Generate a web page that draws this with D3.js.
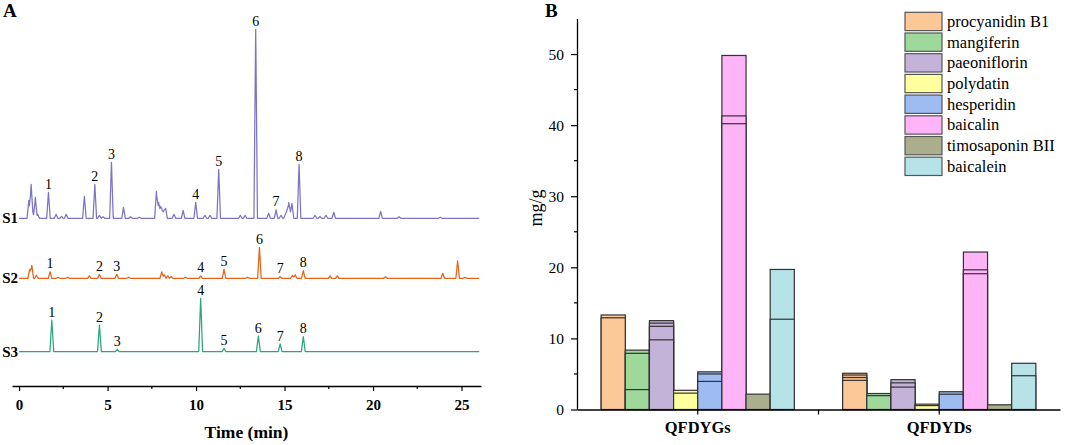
<!DOCTYPE html>
<html><head><meta charset="utf-8">
<script src="https://cdn.jsdelivr.net/npm/d3@7"></script>
<style>
body{margin:0;background:#fff}
svg{display:block}
text{font-family:"Liberation Serif","Times New Roman",serif;fill:#000}
</style>
</head><body>
<svg id="c" width="1065" height="445"></svg>
<script>
// ---------- Panel A data: chromatogram peaks (retention time in min, relative height) ----------
const s1Times   = [0.55,0.68,0.78,0.92,1.05,1.66,2.09,2.4,2.66,3.69,4.28,4.54,4.75,5.22,5.9,6.3,6.8,7.76,7.88,7.98,8.06,8.18,8.28,8.75,9.27,9.98,10.5,10.79,11.28,12.5,12.77,13.37,14.1,14.52,14.8,15.05,15.15,15.24,15.32,15.42,15.82,16.72,17.0,17.34,17.78,20.43,21.47,23.8];
const s1Heights = [18,34,6,21,4,26,4,2,4,22,34,3,1.5,56,11,1.5,1,27,16,12,10,8,10,4,8,16,3,3,49,3,3,189,5,8.5,3,4,9,16,8,15,54,3,2,3,6,7,1.5,1];
const s1Labels  = [1.66,4.28,5.22,9.98,11.28,13.37,14.52,15.82];

const s2Times   = [0.6,0.72,0.98,1.75,2.2,2.75,3.97,4.54,5.52,6.2,8.06,8.2,8.4,8.6,9.4,10.26,11.58,12.9,13.58,14.75,15.45,15.6,16.06,17.57,17.98,20.7,23.94,24.78,25.2];
const s2Heights = [9,13,3,6.7,1,1,2.5,4,4,1,6.5,3.5,2.5,2,1,2.5,9,1,31,1.7,3,3.5,7.7,2.3,2.3,1.5,5,17.5,1];
const s2Labels  = [1.75,4.54,5.52,10.26,11.58,13.58,14.75,16.06];

const s3Times   = [1.85,4.54,5.55,10.26,11.58,13.52,14.75,16.06];
const s3Heights = [31.7,26.7,2.3,53.3,3.3,15.7,7.7,15];
const s3Labels  = [1.85,4.54,5.55,10.26,11.58,13.52,14.75,16.06];

const traceNames  = ["S1","S2","S3"];
const traceColors = ["#7b74c6","#e5621a","#2ba57f"];
const xTicksA = [0,5,10,15,20,25];
const xMinorA = [2.5,7.5,12.5,17.5,22.5];

// ---------- Panel B data: contents (mg/g), overlaid batch values ----------
const categories = ["QFDYGs","QFDYDs"];
const compounds = ["procyanidin B1","mangiferin","paeoniflorin","polydatin","hesperidin","baicalin","timosaponin BII","baicalein"];
const compoundColors = ["#fdc898","#9ed89a","#c4b3d9","#ffff9e","#9ebbf2","#fdb5f7","#abae8c","#b5e3e8"];
const qfdygsValues = [[12.9,13.3],[2.8,7.9,8.35],[9.8,11.7,12.15,12.5],[2.3,2.7],[3.95,5.0,5.3],[40.2,41.3,49.8],[2.16],[12.7,19.7]];
const qfdydsValues = [[4.1,4.5,4.85,5.1],[1.95,2.25],[3.15,3.75,4.2],[0.55,0.75],[2.15,2.5],[19.1,19.65,22.15],[0.66],[4.75,6.5]];
const yTicksB = [0,10,20,30,40,50];
const yMinorB = [5,15,25,35,45];

// ---------- drawing ----------
const svg = d3.select("#c");
svg.append("rect").attr("width",1065).attr("height",445).attr("fill","#fff");

// ===== Panel A =====
const xA = d3.scaleLinear().domain([-0.4,26.1]).range([12,481]);
const baselines = [218.3,278.3,351.7];
const traces = [
  {t:s1Times,h:s1Heights,lab:s1Labels,w:0.1},
  {t:s2Times,h:s2Heights,lab:s2Labels,w:0.1},
  {t:s3Times,h:s3Heights,lab:s3Labels,w:0.11}
];

function envelope(times, heights, w){
  const verts = new Set([0,26]);
  times.forEach(t=>{verts.add(+(t-w).toFixed(4));verts.add(t);verts.add(+(t+w).toFixed(4));});
  const vs = Array.from(verts).filter(v=>v>=0&&v<=26).sort((a,b)=>a-b);
  return vs.map(v=>{
    let m=0;
    times.forEach((t,i)=>{const d=Math.abs(v-t); if(d<w){m=Math.max(m,heights[i]*(1-d/w));}});
    return [v,m];
  });
}

traces.forEach((tr,k)=>{
  const yS = d3.scaleLinear().domain([0,200]).range([baselines[k],baselines[k]-200]);
  const pts = envelope(tr.t,tr.h,tr.w);
  svg.append("path").datum(pts)
    .attr("d",d3.line().x(d=>xA(d[0])).y(d=>yS(d[1])))
    .attr("fill","none").attr("stroke",traceColors[k]).attr("stroke-width",1.25)
    .attr("stroke-linejoin","round");
  svg.append("text").attr("x",18).attr("y",baselines[k]+5)
    .attr("text-anchor","end").attr("font-weight","bold").attr("font-size",15).attr("fill","#000")
    .text(traceNames[k]);
  tr.lab.forEach((t,i)=>{
    const h = tr.h[tr.t.indexOf(t)];
    svg.append("text").attr("x",xA(t)).attr("y",yS(h)-3.5)
      .attr("text-anchor","middle").attr("font-size",14).attr("fill","#000").text(i+1);
  });
});

const axA = svg.append("g").attr("transform","translate(0,386)")
  .call(d3.axisBottom(xA).tickValues(xTicksA).tickSize(5).tickSizeOuter(0).tickPadding(8).tickFormat(d3.format("d")));
axA.select(".domain").attr("stroke","#000").attr("stroke-width",1.3);
axA.selectAll(".tick line").attr("stroke","#000").attr("stroke-width",1.2);
axA.selectAll(".tick text").attr("font-size",15).attr("font-weight","bold")
  .attr("font-family","'Liberation Serif','Times New Roman',serif").attr("fill","#000");
axA.selectAll(".minor").data(xMinorA).enter().append("line").attr("class","minor")
  .attr("x1",d=>xA(d)).attr("x2",d=>xA(d)).attr("y1",0).attr("y2",3)
  .attr("stroke","#000").attr("stroke-width",1.2);
svg.append("text").attr("x",246.5).attr("y",437.5).attr("text-anchor","middle")
  .attr("font-weight","bold").attr("font-size",17.5).text("Time (min)");
svg.append("text").attr("x",3).attr("y",17).attr("font-weight","bold").attr("font-size",19).text("A");

// ===== Panel B =====
const xB = d3.scaleBand().domain(categories).range([577,1060]);
const inner = d3.scaleBand().domain(compounds).range([xB.bandwidth()*0.1, xB.bandwidth()*0.9]);
const yB = d3.scaleLinear().domain([0,55]).range([409.5,18.5]);
const colorB = d3.scaleOrdinal().domain(compounds).range(compoundColors);
const valuesByCat = {"QFDYGs":qfdygsValues,"QFDYDs":qfdydsValues};

const barData = [];
categories.forEach(c=>{
  compounds.forEach((cp,j)=>{
    valuesByCat[c][j].slice().sort((a,b)=>b-a).forEach(v=>barData.push({c,cp,v}));
  });
});
svg.append("g").selectAll("rect").data(barData).enter().append("rect")
  .attr("x",d=>xB(d.c)+inner(d.cp))
  .attr("width",inner.bandwidth())
  .attr("y",d=>yB(d.v))
  .attr("height",d=>yB(0)-yB(d.v))
  .attr("fill",d=>colorB(d.cp))
  .attr("stroke","#333").attr("stroke-width",1.2);

const ayB = svg.append("g").attr("transform","translate(577,0)")
  .call(d3.axisLeft(yB).tickValues(yTicksB).tickSize(6).tickSizeOuter(0).tickPadding(7).tickFormat(d3.format("d")));
ayB.select(".domain").attr("stroke","#000").attr("stroke-width",1.3);
ayB.selectAll(".tick line").attr("stroke","#000").attr("stroke-width",1.2);
ayB.selectAll(".tick text").attr("font-size",15.5)
  .attr("font-family","'Liberation Serif','Times New Roman',serif").attr("fill","#000");
ayB.selectAll(".minor").data(yMinorB).enter().append("line").attr("class","minor")
  .attr("y1",d=>yB(d)).attr("y2",d=>yB(d)).attr("x1",0).attr("x2",-3)
  .attr("stroke","#000").attr("stroke-width",1.2);

const axB = svg.append("g").attr("transform","translate(0,409.5)")
  .call(d3.axisBottom(xB).tickSize(5).tickSizeOuter(0).tickPadding(7));
axB.select(".domain").attr("stroke","#000").attr("stroke-width",1.3);
axB.selectAll(".tick line").attr("stroke","#000").attr("stroke-width",1.2);
axB.selectAll(".tick text").attr("font-size",16.5).attr("font-weight","bold")
  .attr("font-family","'Liberation Serif','Times New Roman',serif").attr("fill","#000");
axB.append("line").attr("x1",xB(categories[1])).attr("x2",xB(categories[1]))
  .attr("y1",0).attr("y2",5).attr("stroke","#000").attr("stroke-width",1.2);

svg.append("text").attr("transform","translate(542,208) rotate(-90)")
  .attr("text-anchor","middle").attr("font-size",18).attr("fill","#000").text("mg/g");
svg.append("text").attr("x",545).attr("y",17).attr("font-weight","bold").attr("font-size",19).text("B");

// legend
const lg = svg.append("g").attr("transform","translate(905,12.3)");
compounds.forEach((cp,i)=>{
  lg.append("rect").attr("x",0).attr("y",i*20.7).attr("width",37).attr("height",18.3)
    .attr("fill",colorB(cp)).attr("stroke","#555").attr("stroke-width",1.2);
  lg.append("text").attr("x",42).attr("y",i*20.7+14.6).attr("font-size",16.5).attr("fill","#000").text(cp);
});
</script>
</body></html>
